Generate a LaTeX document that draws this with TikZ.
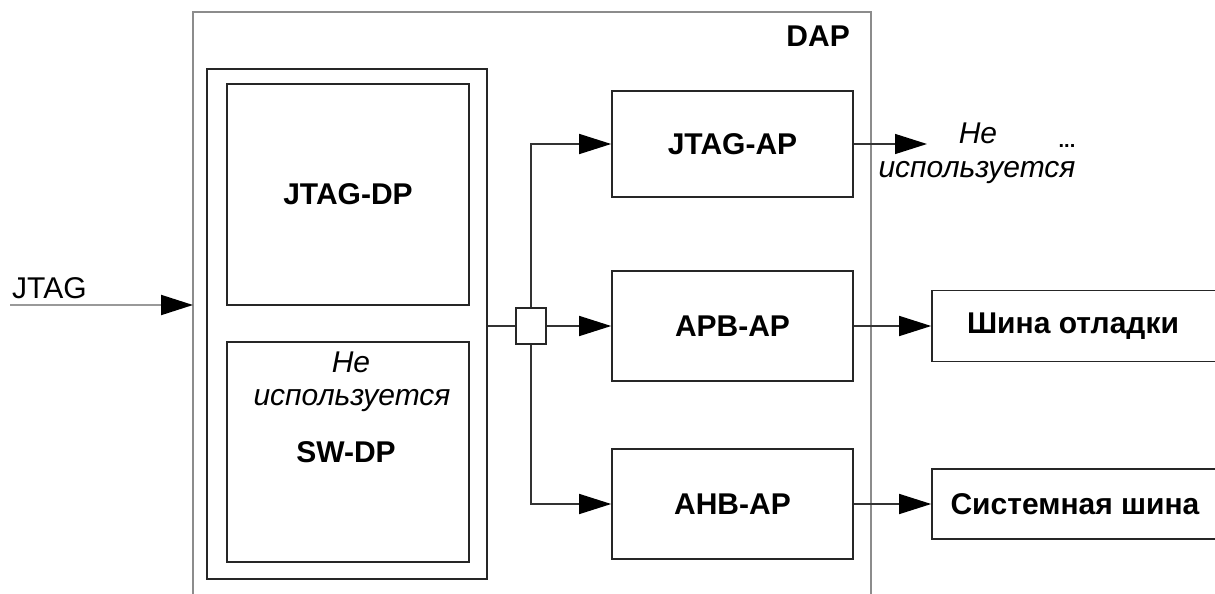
\documentclass[tikz,border=0pt]{standalone}
\usepackage{fontspec}
\setmainfont{Liberation Sans}
\usetikzlibrary{arrows.meta}
\begin{document}
\begin{tikzpicture}[x=1pt,y=-1pt,
  font=\fontsize{30}{34}\selectfont,
  box/.style={draw=black!85, line width=1.6pt, inner sep=0pt, fill=white},
  dapbox/.style={draw=black!45, line width=2pt, inner sep=0pt},
  wire/.style={draw=black!80, line width=1.4pt},
  grayline/.style={draw=black!40, line width=2pt},
  arr/.style={-{Triangle[length=32pt,width=20pt,fill=black,color=black]}},
  bold/.style={font=\fontsize{30}{34}\selectfont\bfseries},
  ital/.style={font=\fontsize{30}{34}\selectfont\itshape, align=center, inner sep=0pt},
]
\useasboundingbox (0,0) rectangle (1215,594);
\clip (0,0) rectangle (1215,594);
\fill[white] (0,0) rectangle (1215,594);

% DAP outer box (extends below the picture)
\node[dapbox, minimum width=678pt, minimum height=608pt] (dap) at (532,316) {};
\node[bold, anchor=base east, inner sep=0pt] (daplbl) at (850,47) {DAP};

% Debug port group
\node[box, minimum width=280pt, minimum height=510pt] (dp) at (347,324) {};
\node[box, bold, minimum width=242pt, minimum height=221pt] (jtagdp) at (348,194.5) {JTAG-DP};
\node[box, minimum width=242pt, minimum height=220pt] (swdp) at (348,452) {};
\node[ital, anchor=base] (swnu1) at (351,372) {Не};
\node[ital, anchor=base] (swnu2) at (352,405) {используется};
\node[bold, anchor=base, inner sep=0pt] (swlbl) at (346,462) {SW-DP};

% Junction
\node[box, minimum width=30pt, minimum height=36pt] (j) at (531,326) {};

% Access ports
\node[box, bold, minimum width=241pt, minimum height=106pt] (jtagap) at (732.5,144) {JTAG-AP};
\node[box, bold, minimum width=241pt, minimum height=110pt] (apbap) at (732.5,326) {APB-AP};
\node[box, bold, minimum width=241pt, minimum height=110pt] (ahbap) at (732.5,504) {AHB-AP};

% External buses (extend beyond right edge)
\node[box, minimum width=300pt, minimum height=71pt] (dbg) at (1082,326) {};
\node[bold, inner sep=0pt] (dbglbl) at (1073,326) {Шина отладки};
\node[box, minimum width=300pt, minimum height=70pt] (sys) at (1082,504) {};
\node[bold, inner sep=0pt] (syslbl) at (1075,504) {Системная шина};

% Not used output
\coordinate (nuend) at (927,144);
\node[ital, anchor=base] (nu1) at (978,143) {Не};
\node[ital, anchor=base] (nu2) at (977,177) {используется};
\node[font=\fontsize{20}{22}\selectfont\bfseries, inner sep=0pt] (dots) at (1067,146) {...};

% JTAG input
\coordinate (jtagin) at (10,305);
\coordinate (jtagtip) at (193,305);
\node[anchor=base west, inner sep=0pt] (jtaglbl) at (12,298) {JTAG};
\draw[grayline, arr] (jtagin) -- (jtagtip);

% Connectors
\draw[wire] (dp.east |- j.west) -- (j.west);
\draw[wire, arr] (j.east) -- (apbap.west);
\draw[wire, arr] (j.north) |- (jtagap.west);
\draw[wire, arr] (j.south) |- (ahbap.west);
\draw[wire, arr] (jtagap.east) -- (nuend);
\draw[wire, arr] (apbap.east) -- (dbg.west);
\draw[wire, arr] (ahbap.east) -- (sys.west);
\end{tikzpicture}
\end{document}
